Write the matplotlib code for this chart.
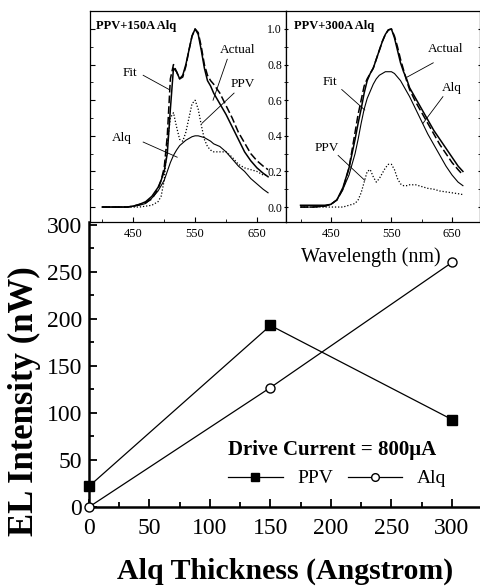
import numpy as np
import matplotlib.pyplot as plt
from matplotlib.ticker import MultipleLocator

plt.rcParams['font.family'] = ['Liberation Serif', 'DejaVu Serif']

# main panel: EL intensity vs Alq thickness
thickness = [0, 150, 300]
ppv_power = [22, 193, 93]
alq_power = [0, 127, 260]

# inset spectra (normalised), common wavelength grid
wl = [400, 420, 440, 450, 460, 470, 480, 490, 495, 500, 505, 510, 515, 520, 525,
      530, 535, 540, 545, 550, 555, 560, 565, 570, 575, 580, 590, 600, 610, 620,
      630, 640, 650, 660, 668]

s150_actual = [0, 0, 0, 0.005, 0.015, 0.03, 0.06, 0.11, 0.15, 0.2, 0.3, 0.55, 0.78, 0.76, 0.72,
               0.74, 0.8, 0.88, 0.96, 1.0, 0.97, 0.88, 0.78, 0.71, 0.68, 0.64, 0.58, 0.52, 0.45, 0.38,
               0.31, 0.26, 0.22, 0.19, 0.17]
s150_fit = [0, 0, 0, 0.005, 0.015, 0.025, 0.045, 0.1, 0.15, 0.22, 0.4, 0.72, 0.8, 0.76, 0.72,
            0.73, 0.79, 0.88, 0.96, 1.0, 0.98, 0.9, 0.8, 0.74, 0.71, 0.69, 0.64, 0.57, 0.5, 0.42,
            0.36, 0.3, 0.26, 0.23, 0.21]
s150_ppv = [0, 0, 0, 0, 0, 0.005, 0.01, 0.03, 0.06, 0.15, 0.35, 0.5, 0.53, 0.45, 0.38,
            0.37, 0.42, 0.5, 0.58, 0.6, 0.55, 0.46, 0.38, 0.34, 0.32, 0.31, 0.31, 0.31, 0.28, 0.24,
            0.22, 0.21, 0.2, 0.18, 0.18]
s150_alq = [0, 0, 0, 0.005, 0.01, 0.02, 0.05, 0.09, 0.12, 0.15, 0.2, 0.25, 0.29, 0.32, 0.345,
            0.36, 0.375, 0.385, 0.395, 0.4, 0.4, 0.395, 0.39, 0.38, 0.37, 0.355, 0.34, 0.31, 0.27, 0.23,
            0.2, 0.16, 0.13, 0.1, 0.08]

s300_actual = [0.01, 0.01, 0.01, 0.015, 0.04, 0.11, 0.22, 0.38, 0.47, 0.55, 0.64, 0.71, 0.75, 0.78, 0.83,
               0.88, 0.93, 0.97, 0.995, 1.0, 0.95, 0.88, 0.81, 0.76, 0.72, 0.67, 0.61, 0.55, 0.49, 0.43,
               0.38, 0.33, 0.28, 0.23, 0.2]
s300_fit = [0.0, 0.0, 0.005, 0.015, 0.04, 0.1, 0.22, 0.42, 0.52, 0.6, 0.68, 0.72, 0.75, 0.78, 0.83,
            0.88, 0.93, 0.97, 0.995, 1.0, 0.96, 0.9, 0.83, 0.77, 0.71, 0.66, 0.59, 0.53, 0.47, 0.41,
            0.35, 0.3, 0.25, 0.21, 0.18]
s300_ppv = [0, 0, 0, 0, 0, 0, 0.01, 0.02, 0.04, 0.08, 0.14, 0.2, 0.21, 0.17, 0.14,
            0.16, 0.19, 0.22, 0.24, 0.24, 0.21, 0.16, 0.13, 0.12, 0.12, 0.125, 0.125, 0.115, 0.105, 0.1,
            0.09, 0.085, 0.08, 0.075, 0.07]
s300_alq = [0, 0, 0.005, 0.015, 0.04, 0.1, 0.18, 0.3, 0.38, 0.47, 0.55, 0.61, 0.65, 0.69, 0.72,
            0.74, 0.75, 0.76, 0.76, 0.76, 0.75, 0.73, 0.71, 0.68, 0.65, 0.62, 0.55, 0.48, 0.41, 0.35,
            0.29, 0.23, 0.18, 0.14, 0.12]

W, H = 481, 588
fig = plt.figure(figsize=(W / 100, H / 100), dpi=100)


def fx(px):
    return px / W


def fy(py):
    return 1 - py / H


# ---- main axes ----
ax = fig.add_axes([fx(89), fy(507), fx(481) - fx(89), fy(222) - fy(507)])
ax.plot(thickness, ppv_power, color='black', lw=0.9, marker='s', ms=6.5,
        mfc='black', mec='black', label='PPV', clip_on=False, zorder=3)
ax.plot(thickness, alq_power, color='black', lw=0.9, marker='o', ms=6.5,
        mfc='white', mec='black', mew=1.0, label='Alq', clip_on=False, zorder=3)
ax.set_xlim(0, 324)
ax.set_ylim(0, 303)
ax.xaxis.set_major_locator(MultipleLocator(50))
ax.xaxis.set_minor_locator(MultipleLocator(25))
ax.yaxis.set_major_locator(MultipleLocator(50))
ax.yaxis.set_minor_locator(MultipleLocator(25))
ax.tick_params(which='both', direction='in', width=1.3, labelsize=17, pad=5)
ax.tick_params(axis='x', which='both', pad=8)
ax.tick_params(which='major', length=6)
ax.tick_params(which='minor', length=3.5)
for side in ['top', 'right']:
    ax.spines[side].set_visible(False)
for side in ['left', 'bottom']:
    ax.spines[side].set_linewidth(1.8)

ax.set_xlabel('Alq Thickness (Angstrom)', fontsize=21.5, fontweight='bold')
ax.xaxis.set_label_coords(0.5, -0.178)
ax.set_ylabel('EL Intensity (nW)', fontsize=25, fontweight='bold', va='center')
ax.yaxis.set_label_coords(-0.165, 0.37)

leg = ax.legend(ncol=2, loc='upper left', bbox_to_anchor=(0.355, 0.235),
                frameon=False, fontsize=14, title='Drive Current = 800\u03bcA',
                title_fontproperties={'weight': 'bold', 'size': 15},
                alignment='left', borderpad=0, borderaxespad=0,
                handlelength=2.8, handletextpad=0.75, columnspacing=0.75,
                markerscale=0.85)

# ---- inset spectra ----
inset_specs = [
    (90, 286, 'PPV+150A Alq', (s150_actual, s150_fit, s150_ppv, s150_alq),
     [('Fit', (445, 0.75), (466, 0.74), (508, 0.66)),
      ('Actual', (618, 0.88), (602, 0.83), (579, 0.60)),
      ('PPV', (627, 0.69), (613, 0.64), (561, 0.47)),
      ('Alq', (432, 0.39), (466, 0.365), (521, 0.28))]),
    (286, 480.5, 'PPV+300A Alq', (s300_actual, s300_fit, s300_ppv, s300_alq),
     [('Actual', (640, 0.89), (619, 0.81), (576, 0.73)),
      ('Fit', (448, 0.70), (468, 0.66), (506, 0.545)),
      ('Alq', (650, 0.67), (635, 0.62), (602, 0.47)),
      ('PPV', (443, 0.33), (462, 0.29), (506, 0.15))]),
]

for i, (x0, x1, title, curves, notes) in enumerate(inset_specs):
    ia = fig.add_axes([fx(x0), fy(222), fx(x1) - fx(x0), fy(11) - fy(222)])
    actual, fit, ppv, alq = curves
    ia.plot(wl, actual, color='black', lw=1.1)
    ia.plot(wl, fit, color='black', lw=1.1, ls=(0, (5, 2)))
    ia.plot(wl, ppv, color='black', lw=0.9, ls=(0, (1, 1.5)))
    ia.plot(wl, alq, color='black', lw=0.8)
    ia.set_xlim(380 if i == 0 else 376, 697)
    ia.set_ylim(-0.084, 1.101)
    ia.xaxis.set_major_locator(MultipleLocator(100, offset=50))
    ia.xaxis.set_minor_locator(MultipleLocator(50))
    ia.yaxis.set_major_locator(MultipleLocator(0.2))
    ia.yaxis.set_minor_locator(MultipleLocator(0.1))
    ia.tick_params(axis='x', which='both', direction='in', labelsize=9, pad=4)
    ia.tick_params(axis='x', which='major', length=3.5)
    ia.tick_params(axis='x', which='minor', length=2.5)
    if i == 0:
        ia.tick_params(axis='y', which='both', direction='in', left=True, right=False,
                       labelleft=False)
    else:
        ia.tick_params(axis='y', which='both', direction='inout', left=True, right=True,
                       labelleft=True, labelsize=8.5, pad=1)
        ia.yaxis.set_major_formatter(plt.FormatStrFormatter('%.1f'))
    ia.tick_params(axis='y', which='major', length=3.5)
    ia.tick_params(axis='y', which='minor', length=2.5)
    for sp in ia.spines.values():
        sp.set_linewidth(0.9)
    ia.text(0.03 if i == 0 else 0.04, 0.93, title, transform=ia.transAxes,
            fontsize=9, fontweight='bold', ha='left', va='center')
    for label, txt_xy, start, end in notes:
        ia.text(txt_xy[0], txt_xy[1], label, fontsize=9.5, ha='center', va='center')
        ia.plot([start[0], end[0]], [start[1], end[1]], color='black', lw=0.6)

fig.text(fx(371), fy(257), 'Wavelength (nm)', fontsize=14.5, ha='center', va='center')

fig.savefig('out.png', dpi=100)
